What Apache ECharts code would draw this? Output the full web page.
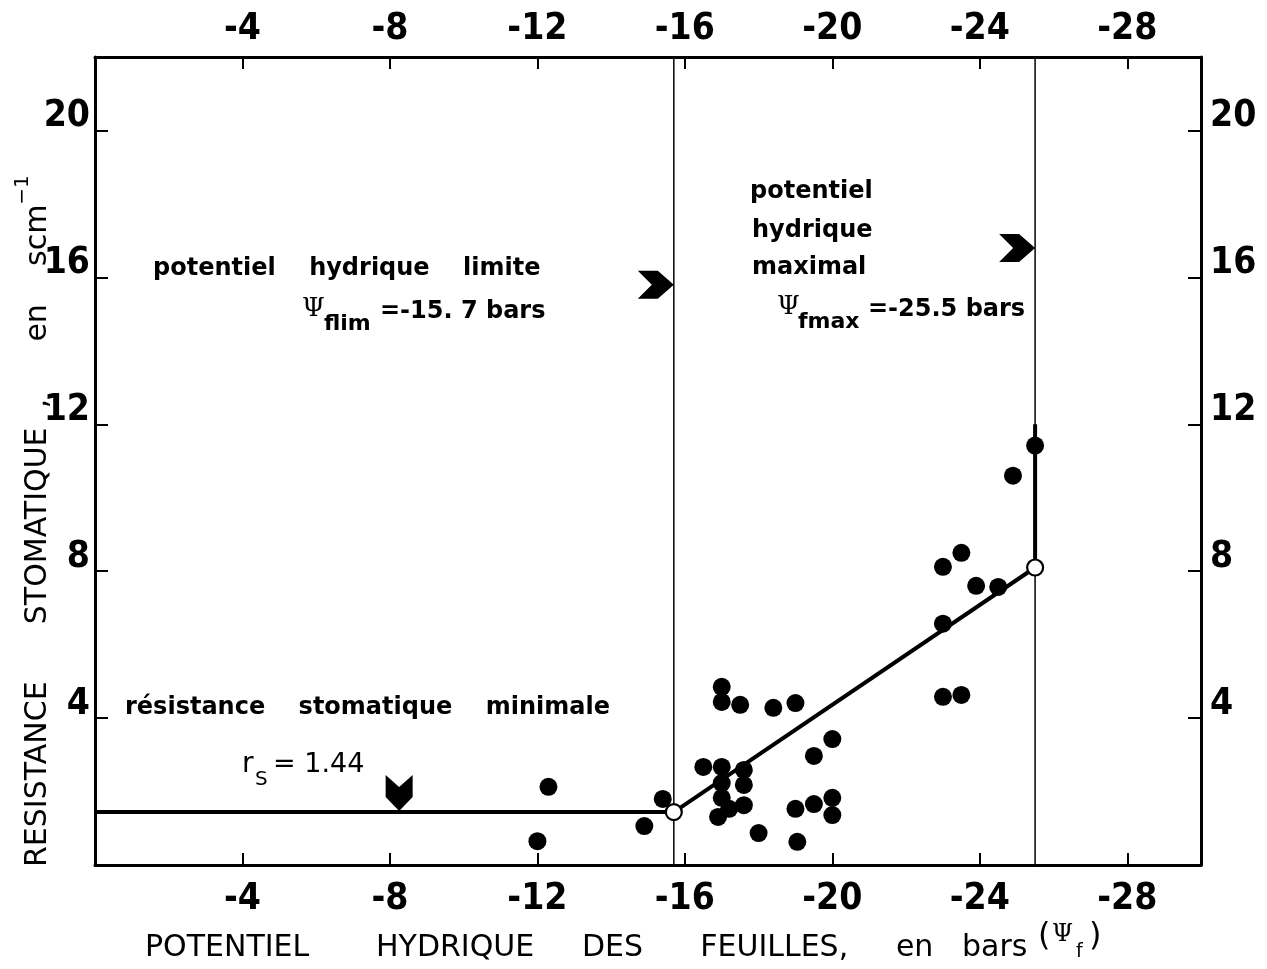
<!DOCTYPE html>
<html>
<head>
<meta charset="utf-8">
<script src="https://cdn.jsdelivr.net/npm/echarts@6/dist/echarts.min.js"></script>
<style>
  html, body { margin: 0; padding: 0; background: #fff; }
  #chart { width: 1267px; height: 969px; }
</style>
</head>
<body>
<div id="chart"></div>
<script>
// Leaf water potential (bars) and measured stomatal resistance (s cm-1)
const potential = [-12.3, -12.0, -14.9, -15.4, -16.5, -17.0, -17.0, -17.5, -18.4, -19.0,
                   -17.0, -17.0, -17.6, -17.6, -17.0, -17.2, -17.6, -16.9, -18.0, -19.0,
                   -19.05, -19.5, -19.5, -20.0, -20.0, -20.0, -23.0, -23.5, -25.5, -24.9,
                   -23.5, -23.0, -23.9, -24.5, -23.0];
const resistance = [2.13, 0.65, 1.06, 1.80, 2.67, 4.85, 4.44, 4.36, 4.28, 4.41,
                    2.67, 2.23, 2.59, 2.18, 1.83, 1.53, 1.63, 1.31, 0.87, 1.53,
                    0.63, 1.66, 2.97, 3.43, 1.83, 1.36, 4.58, 4.63, 11.42, 10.6,
                    8.5, 8.12, 7.6, 7.57, 6.57];

// Fitted response: minimal resistance plateau, linear rise, closure at the maximal potential
const rsMin = 1.44;
const psiLim = -15.7;
const psiMax = -25.5;
const modelX = [0, psiLim, psiMax, psiMax];
const modelY = [rsMin, rsMin, 8.1, 12.0];
const breakX = [psiLim, psiMax];
const breakY = [rsMin, 8.1];

// Pointer heads (tip positions)
const limArrow = [psiLim, 15.8];
const maxArrow = [psiMax, 16.8];
const minArrow = [-8.25, rsMin];

// Axis ranges and ticks
const xRange = [-30, 0];
const yRange = [0, 22];
const xTicks = [-4, -8, -12, -16, -20, -24, -28];
const yTicks = [4, 8, 12, 16, 20];

const tickFont = "'Liberation Sans Narrow','DejaVu Sans Condensed','Roboto Condensed','Liberation Sans',sans-serif";
const sans = "'DejaVu Sans', sans-serif";
const serif = "'DejaVu Serif', serif";

function xAxisDef(pos, margin) {
  return {
    type: 'value', position: pos, min: xRange[0], max: xRange[1], inverse: true,
    axisLine: { show: true, onZero: false, lineStyle: { color: '#000', width: 3 } },
    axisTick: { show: true, inside: true, length: 12, customValues: xTicks, lineStyle: { color: '#000', width: 2 } },
    axisLabel: { show: true, customValues: xTicks, margin: margin, color: '#000',
      fontFamily: tickFont, fontWeight: 'bold', fontSize: 37 },
    splitLine: { show: false }
  };
}
function yAxisDef(pos, margin, align) {
  return {
    type: 'value', position: pos, min: yRange[0], max: yRange[1],
    axisLine: { show: true, onZero: false, lineStyle: { color: '#000', width: 3 } },
    axisTick: { show: true, inside: true, length: 13, customValues: yTicks, lineStyle: { color: '#000', width: 2 } },
    axisLabel: { show: true, customValues: yTicks, margin: margin, color: '#000',
      fontFamily: tickFont, fontWeight: 'bold', fontSize: 37, verticalAlign: 'bottom', lineHeight: 28, align: align },
    splitLine: { show: false }
  };
}

function txt(text, x, y, size, weight, family, extra) {
  return Object.assign({
    type: 'text', x: x, y: y, silent: true,
    style: { text: text, fill: '#000', fontSize: size, fontWeight: weight, fontFamily: family,
             align: 'left', verticalAlign: 'middle' }
  }, extra || {});
}

const chart = echarts.init(document.getElementById('chart'));
chart.setOption({
  animation: false,
  backgroundColor: '#fff',
  grid: { left: 95, right: 66, top: 57, bottom: 104 },
  xAxis: [xAxisDef('bottom', 16), xAxisDef('top', 9)],
  yAxis: [yAxisDef('left', 5, 'right'), yAxisDef('right', 9, 'left')],
  series: [
    { type: 'line', data: [[psiLim, yRange[0]], [psiLim, yRange[1]]], symbol: 'none',
      lineStyle: { color: '#111', width: 1.6 }, z: 1 },
    { type: 'line', data: [[psiMax, yRange[0]], [psiMax, yRange[1]]], symbol: 'none',
      lineStyle: { color: '#111', width: 1.6 }, z: 1 },
    { type: 'line', data: modelX.map((v, i) => [v, modelY[i]]), symbol: 'none',
      lineStyle: { color: '#000', width: 4 }, z: 2 },
    { type: 'scatter', data: potential.map((v, i) => [v, resistance[i]]), symbol: 'circle',
      symbolSize: 18, itemStyle: { color: '#000', opacity: 1 }, z: 3 },
    { type: 'scatter', data: breakX.map((v, i) => [v, breakY[i]]), symbol: 'circle',
      symbolSize: 16, itemStyle: { color: '#fff', borderColor: '#000', borderWidth: 2.2, opacity: 1 }, z: 4 },
    { type: 'scatter', data: [limArrow, maxArrow],
      symbol: 'path://M0,0 L20,0 L36,14 L20,28 L0,28 L14,14 Z', symbolSize: [36, 28], symbolOffset: [-18, 0],
      itemStyle: { color: '#000', opacity: 1 }, z: 4 },
    { type: 'scatter', data: [minArrow],
      symbol: 'path://M0,0 L14,12 L28,0 L28,22 L14,36 L0,22 Z', symbolSize: [27, 36], symbolOffset: [0, -19],
      itemStyle: { color: '#000', opacity: 1 }, z: 4 }
  ],
  graphic: [
    // axis titles
    txt('POTENTIEL       HYDRIQUE     DES      FEUILLES,     en   bars', 145, 948, 30, 'normal', sans),
    txt('(', 1038, 937, 32, 'normal', sans),
    txt('Ψ', 1052, 935, 24, 'normal', serif),
    txt('f', 1076, 952, 19, 'normal', sans),
    txt(')', 1089, 937, 32, 'normal', sans),
    {
      type: 'text', x: 38, y: 867, rotation: Math.PI / 2, silent: true,
      style: {
        text: '{a|RESISTANCE      STOMATIQUE  ,      en    scm}{s|−1}',
        fill: '#000', align: 'left', verticalAlign: 'middle',
        rich: {
          a: { fontSize: 30, fontFamily: sans, lineHeight: 50, fill: '#000' },
          s: { fontSize: 20, fontFamily: sans, lineHeight: 14, verticalAlign: 'top', fill: '#000' }
        }
      }
    },
    // annotations
    txt('potentiel    hydrique    limite', 153, 269, 24, 'bold', sans),
    txt('Ψ', 302, 309, 26, 'normal', serif),
    txt('flim', 324, 324, 22, 'bold', sans),
    txt('=-15. 7 bars', 380, 312, 24, 'bold', sans),
    txt('potentiel', 750, 192, 24, 'bold', sans),
    txt('hydrique', 752, 231, 24, 'bold', sans),
    txt('maximal', 752, 268, 24, 'bold', sans),
    txt('Ψ', 777, 307, 26, 'normal', serif),
    txt('fmax', 798, 322, 22, 'bold', sans),
    txt('=-25.5 bars', 868, 310, 24, 'bold', sans),
    txt('résistance    stomatique    minimale', 125, 708, 24, 'bold', sans),
    txt('r', 242, 765, 28, 'normal', sans),
    txt('S', 255, 780, 20, 'normal', sans),
    txt('= 1.44', 273, 765, 27, 'normal', sans)
  ]
});
</script>
</body>
</html>
